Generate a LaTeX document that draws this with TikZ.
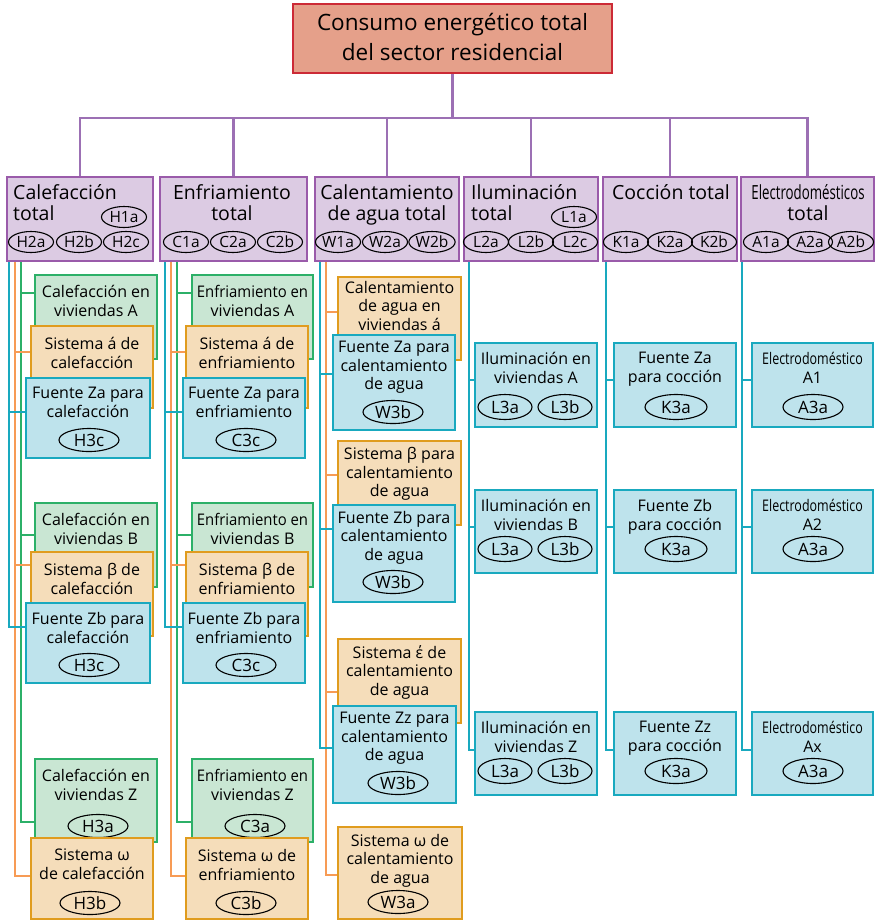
\documentclass[tikz,border=0pt]{standalone}
\usepackage{fontspec}
\usepackage{graphicx}
\setmainfont{Open Sans}
\usetikzlibrary{shapes.geometric,backgrounds}
\definecolor{topF}{HTML}{E5A08A}
\definecolor{topB}{HTML}{CC2A36}
\definecolor{hdrF}{HTML}{DCCBE3}
\definecolor{hdrB}{HTML}{9A5BAA}
\definecolor{pL}{HTML}{9C70B4}
\definecolor{gF}{HTML}{C9E6D3}
\definecolor{gB}{HTML}{2CB068}
\definecolor{oF}{HTML}{F5DDBA}
\definecolor{oB}{HTML}{E09C1E}
\definecolor{oL}{HTML}{F79B55}
\definecolor{bF}{HTML}{BEE3EC}
\definecolor{bB}{HTML}{19A9BF}
\tikzset{
 boxbase/.style={rectangle, line width=2.8pt, inner sep=0pt, outer sep=0pt, anchor=north west},
 topbox/.style={boxbase, draw=topB, fill=topF},
 hdr/.style={boxbase, draw=hdrB, fill=hdrF},
 gbox/.style={boxbase, draw=gB, fill=gF},
 obox/.style={boxbase, draw=oB, fill=oF},
 bbox/.style={boxbase, draw=bB, fill=bF},
 bt/.style={inner sep=0pt, align=center, anchor=north, font=\fontsize{16}{19}\selectfont},
 bt3/.style={inner sep=0pt, align=center, anchor=north, font=\fontsize{16}{18.6}\selectfont},
 ht/.style={inner sep=0pt, font=\fontsize{19.5}{21.5}\selectfont},
 hel/.style={ellipse, draw, line width=1.1pt, inner sep=0pt, minimum width=45pt, minimum height=21pt, font=\fontsize{15.5}{16}\selectfont},
 bel/.style={ellipse, draw, line width=1.1pt, inner sep=0pt, minimum width=60pt, minimum height=23pt, font=\fontsize{17}{17}\selectfont},
 pline/.style={draw=pL, line width=2.8pt},
 gline/.style={draw=gB, line width=2.5pt},
 oline/.style={draw=oL, line width=2.5pt},
 bline/.style={draw=bB, line width=2.5pt},
}
\newcommand\bx[9][bt]{%
  \node[#3, minimum width={(#6-#4)*1pt}, minimum height={(#7-#5)*1pt}] (#2) at (#4,#5) {};
  \node[#1] (#2t) at ([yshift=-#9pt]#2.north) {#8};}
\newcommand\cnd[2]{\scalebox{#1}[1]{#2}}
\begin{document}
\begin{tikzpicture}[x=1pt,y=-1pt]
\useasboundingbox (0,0) rectangle (877,922);
% top
\node[topbox, minimum width=319pt, minimum height=69pt] (top) at (293,4) {};
\node[inner sep=0pt, align=center, font=\fontsize{22.5}{30}\selectfont, anchor=north] (topt) at (452.5,13) {Consumo energético total\\del sector residencial};
% headers
\node[hdr, minimum width=146pt, minimum height=84pt] (h1) at (7,177) {};
\node[hdr, minimum width=147pt, minimum height=84pt] (h2) at (160,177) {};
\node[hdr, minimum width=144pt, minimum height=84pt] (h3) at (315,177) {};
\node[hdr, minimum width=134pt, minimum height=84pt] (h4) at (464,177) {};
\node[hdr, minimum width=134pt, minimum height=84pt] (h5) at (603,177) {};
\node[hdr, minimum width=133pt, minimum height=84pt] (h6) at (741,177) {};
\coordinate (bus) at (452,118);
\begin{scope}[on background layer]
\draw[pline] (top.south) -- (top.south |- bus);
\draw[pline] (h1.north) |- (bus) -| (h6.north);
\draw[pline] (h2.north) -- (h2.north |- bus);
\draw[pline] (h3.north) -- (h3.north |- bus);
\draw[pline] (h4.north) -- (h4.north |- bus);
\draw[pline] (h5.north) -- (h5.north |- bus);
\end{scope}
\node[ht, anchor=north west, align=left] (h1t) at (13,184) {Calefacción\\total};
\node[ht, anchor=north, align=center] (h2t) at (232,184) {Enfriamiento\\total};
\node[ht, anchor=north, align=center] (h3t) at (387,184) {Calentamiento\\de agua total};
\node[ht, anchor=north west, align=left] (h4t) at (471,184) {Iluminación\\total};
\node[ht, anchor=north, align=center] (h5t) at (671,184) {Cocción total};
\node[ht, anchor=north, align=center] (h6t) at (808,184) {\cnd{0.68}{Electrodomésticos}\\total};
\node[hel] (e11) at (124,217) {H1a};
\node[hel] (e12) at (31,242) {H2a};
\node[hel] (e13) at (79,242) {H2b};
\node[hel] (e14) at (126,242) {H2c};
\node[hel] (e21) at (186,242) {C1a};
\node[hel] (e22) at (233,242) {C2a};
\node[hel] (e23) at (280,242) {C2b};
\node[hel] (e31) at (338,242) {W1a};
\node[hel] (e32) at (385,242) {W2a};
\node[hel] (e33) at (432,242) {W2b};
\node[hel] (e41) at (574,217) {L1a};
\node[hel] (e42) at (486,242) {L2a};
\node[hel] (e43) at (531,242) {L2b};
\node[hel] (e44) at (575,242) {L2c};
\node[hel] (e51) at (626,242) {K1a};
\node[hel] (e52) at (670,242) {K2a};
\node[hel] (e53) at (714,242) {K2b};
\node[hel] (e61) at (766,242) {A1a};
\node[hel] (e62) at (810,242) {A2a};
\node[hel] (e63) at (851,242) {A2b};
% column 1
\bx{gA}{gbox}{35}{275}{157}{359}{Calefacción en\\viviendas A}{10}
\bx{oA}{obox}{31}{326}{153}{408}{Sistema á de\\calefacción}{11}
\bx{bA}{bbox}{26}{378}{150}{458}{Fuente Za para\\calefacción}{9}
\node[bel] (bAe) at (89,440) {H3c};
\bx{gB}{gbox}{35}{503}{157}{587}{Calefacción en\\viviendas B}{10}
\bx{oB}{obox}{31}{552}{153}{636}{Sistema β de\\calefacción}{11}
\bx{bB}{bbox}{26}{603}{150}{683}{Fuente Zb para\\calefacción}{9}
\node[bel] (bBe) at (89,665) {H3c};
\bx{gZ}{gbox}{35}{759}{157}{842}{Calefacción en\\viviendas Z}{10}
\node[bel] (gZe) at (98,826) {H3a};
\bx{oZ}{obox}{31}{838}{153}{919}{Sistema ω\\de calefacción}{11}
\node[bel] (oZe) at (90,903) {H3b};
% column 2
\bx{gA2}{gbox}{192}{275}{313}{359}{\cnd{0.93}{Enfriamiento en}\\viviendas A}{10}
\bx{oA2}{obox}{186}{326}{308}{408}{Sistema á de\\enfriamiento}{11}
\bx{bA2}{bbox}{183}{378}{305}{458}{Fuente Za para\\enfriamiento}{9}
\node[bel] (bA2e) at (246,440) {C3c};
\bx{gB2}{gbox}{192}{503}{313}{587}{\cnd{0.93}{Enfriamiento en}\\viviendas B}{10}
\bx{oB2}{obox}{186}{552}{308}{636}{Sistema β de\\enfriamiento}{11}
\bx{bB2}{bbox}{183}{603}{305}{683}{Fuente Zb para\\enfriamiento}{9}
\node[bel] (bB2e) at (246,665) {C3c};
\bx{gZ2}{gbox}{192}{759}{313}{842}{\cnd{0.93}{Enfriamiento en}\\viviendas Z}{10}
\node[bel] (gZ2e) at (255,826) {C3a};
\bx{oZ2}{obox}{186}{838}{308}{919}{Sistema ω de\\enfriamiento}{11}
\node[bel] (oZ2e) at (246,903) {C3b};
% column 3
\bx[bt3]{oA3}{obox}{338}{277}{461}{360}{Calentamiento\\de agua en\\viviendas á}{4}
\bx[bt3]{bA3}{bbox}{333}{335}{455}{430}{Fuente Za para\\calentamiento\\de agua}{6}
\node[bel] (bA3e) at (393,412) {W3b};
\bx[bt3]{oB3}{obox}{338}{441}{461}{525}{Sistema β para\\calentamiento\\de agua}{6}
\bx[bt3]{bB3}{bbox}{333}{505}{455}{602}{Fuente Zb para\\calentamiento\\de agua}{6}
\node[bel] (bB3e) at (393,582) {W3b};
\bx[bt3]{oE3}{obox}{338}{639}{461}{723}{Sistema έ de\\calentamiento\\de agua}{6}
\bx[bt3]{bZ3}{bbox}{333}{706}{456}{803}{Fuente Zz para\\calentamiento\\de agua}{6}
\node[bel] (bZ3e) at (398,783) {W3b};
\bx[bt3]{oW3}{obox}{338}{827}{462}{919}{Sistema ω de\\calentamiento\\de agua}{7}
\node[bel] (oW3e) at (398,902) {W3a};
% column 4
\bx{iA}{bbox}{475}{343}{597}{427}{Iluminación en\\viviendas A}{9}
\node[bel, minimum width=54pt, minimum height=25pt] (iA1) at (505,407) {L3a};
\node[bel, minimum width=54pt, minimum height=25pt] (iA2) at (565,407) {L3b};
\bx{iB}{bbox}{475}{490}{597}{573}{Iluminación en\\viviendas B}{9}
\node[bel, minimum width=54pt, minimum height=25pt] (iB1) at (505,549) {L3a};
\node[bel, minimum width=54pt, minimum height=25pt] (iB2) at (565,549) {L3b};
\bx{iZ}{bbox}{475}{712}{597}{795}{Iluminación en\\viviendas Z}{9}
\node[bel, minimum width=54pt, minimum height=25pt] (iZ1) at (505,771) {L3a};
\node[bel, minimum width=54pt, minimum height=25pt] (iZ2) at (565,771) {L3b};
% column 5
\bx{kA}{bbox}{614}{343}{736}{427}{Fuente Za\\para cocción}{9}
\node[bel, minimum width=62pt, minimum height=25pt] (kAe) at (676,407) {K3a};
\bx{kB}{bbox}{614}{490}{736}{573}{Fuente Zb\\para cocción}{9}
\node[bel, minimum width=62pt, minimum height=25pt] (kBe) at (676,549) {K3a};
\bx{kZ}{bbox}{614}{712}{736}{795}{Fuente Zz\\para cocción}{9}
\node[bel, minimum width=62pt, minimum height=25pt] (kZe) at (676,771) {K3a};
% column 6
\bx{aA}{bbox}{752}{343}{873}{427}{\cnd{0.78}{Electrodoméstico}\\A1}{9}
\node[bel, minimum width=60pt, minimum height=25pt] (aAe) at (813,407) {A3a};
\bx{aB}{bbox}{752}{490}{873}{573}{\cnd{0.78}{Electrodoméstico}\\A2}{9}
\node[bel, minimum width=60pt, minimum height=25pt] (aBe) at (813,549) {A3a};
\bx{aZ}{bbox}{752}{712}{873}{795}{\cnd{0.78}{Electrodoméstico}\\Ax}{9}
\node[bel, minimum width=60pt, minimum height=25pt] (aZe) at (813,771) {A3a};
% connectors
\coordinate (c1b) at (9,261);
\coordinate (c1o) at (15,261);
\coordinate (c1g) at (21,261);
\coordinate (c2b) at (165,261);
\coordinate (c2o) at (171,261);
\coordinate (c2g) at (177,261);
\coordinate (c3b) at (320,261);
\coordinate (c3o) at (326,261);
\coordinate (c4b) at (469,261);
\coordinate (c5b) at (606,261);
\coordinate (c6b) at (742,261);
\begin{scope}[on background layer]
\draw[gline] (c1g) |- ([yshift=-18pt]gA.north west);
\draw[gline] (c1g) |- ([yshift=-32pt]gB.north west);
\draw[gline] (c1g) |- ([yshift=-63pt]gZ.north west);
\draw[oline] (c1o) |- ([yshift=-26pt]oA.north west);
\draw[oline] (c1o) |- ([yshift=-13pt]oB.north west);
\draw[oline] (c1o) |- ([yshift=-38pt]oZ.north west);
\draw[bline] (c1b) |- ([yshift=-34pt]bA.north west);
\draw[bline] (c1b) |- ([yshift=-24pt]bB.north west);
\draw[gline] (c2g) |- ([yshift=-18pt]gA2.north west);
\draw[gline] (c2g) |- ([yshift=-32pt]gB2.north west);
\draw[gline] (c2g) |- ([yshift=-63pt]gZ2.north west);
\draw[oline] (c2o) |- ([yshift=-26pt]oA2.north west);
\draw[oline] (c2o) |- ([yshift=-13pt]oB2.north west);
\draw[oline] (c2o) |- ([yshift=-38pt]oZ2.north west);
\draw[bline] (c2b) |- ([yshift=-34pt]bA2.north west);
\draw[bline] (c2b) |- ([yshift=-24pt]bB2.north west);
\draw[oline] (c3o) |- ([yshift=-35pt]oA3.north west);
\draw[oline] (c3o) |- ([yshift=-34pt]oB3.north west);
\draw[oline] (c3o) |- ([yshift=-53pt]oE3.north west);
\draw[oline] (c3o) |- ([yshift=-48pt]oW3.north west);
\draw[bline] (c3b) |- ([yshift=-39pt]bA3.north west);
\draw[bline] (c3b) |- ([yshift=-24pt]bB3.north west);
\draw[bline] (c3b) |- ([yshift=-42pt]bZ3.north west);
\draw[bline] (c4b) |- ([yshift=-37pt]iA.north west);
\draw[bline] (c4b) |- ([yshift=-37pt]iB.north west);
\draw[bline] (c4b) |- ([yshift=-38pt]iZ.north west);
\draw[bline] (c5b) |- ([yshift=-37pt]kA.north west);
\draw[bline] (c5b) |- ([yshift=-37pt]kB.north west);
\draw[bline] (c5b) |- ([yshift=-38pt]kZ.north west);
\draw[bline] (c6b) |- ([yshift=-37pt]aA.north west);
\draw[bline] (c6b) |- ([yshift=-37pt]aB.north west);
\draw[bline] (c6b) |- ([yshift=-38pt]aZ.north west);
\end{scope}
\end{tikzpicture}
\end{document}
